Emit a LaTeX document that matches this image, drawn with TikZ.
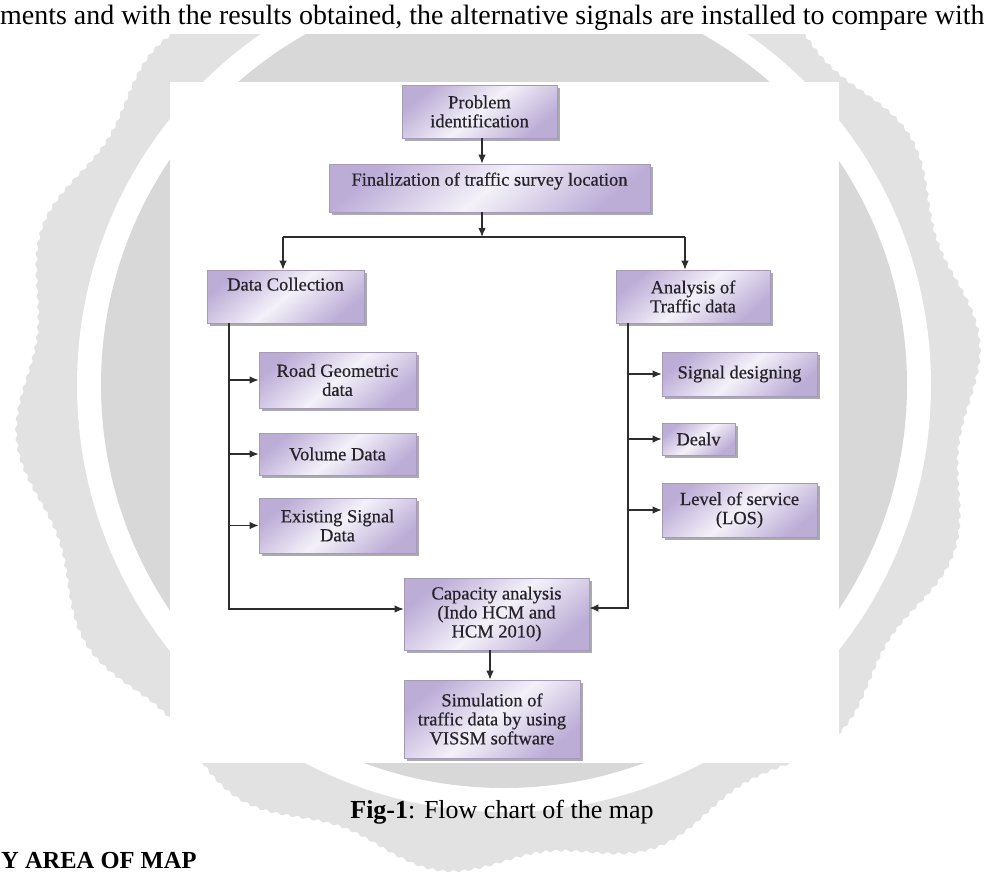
\documentclass[tikz,border=0pt]{standalone}
\usepackage{fontspec}
\setmainfont{Liberation Serif}
\newfontfamily\boxfont[FakeBold=0.5]{Liberation Serif}
\usetikzlibrary{shadows,arrows.meta,calc}
\definecolor{wmout}{RGB}{226,226,226}
\definecolor{wmin}{RGB}{216,216,216}
\definecolor{lavdark}{RGB}{188,173,215}
\definecolor{lavlight}{RGB}{244,241,249}
\definecolor{boxline}{RGB}{165,155,185}
\definecolor{conn}{RGB}{45,45,45}
\definecolor{boxtext}{RGB}{38,34,42}
\begin{document}
\begin{tikzpicture}[x=1pt,y=-1pt,
  fbox/.style={draw=boxline, line width=0.6pt,
    top color=lavdark, bottom color=lavdark, middle color=lavlight, shading angle=40,
    drop shadow={shadow xshift=2.5pt, shadow yshift=-2.5pt, fill=black!55, opacity=0.6},
    inner sep=0pt, align=center, text=boxtext,
    font=\boxfont\fontsize{18.5}{19}\selectfont},
  conline/.style={conn, line width=1.3pt},
  arr/.style={conline, -{Latex[length=9pt,width=7.5pt]}}]
\useasboundingbox (0,0) rectangle (984,875);
\clip (0,0) rectangle (984,875);
% watermark seal
\begin{scope}[shift={(498,390)}]
  \fill[wmout] plot[domain=0:360, samples=1441, variable=\t]
    ({\t}:{474+10*cos(14*\t-2436)+1.2*sin(100*mod(2.9*\t,3.6))}) -- cycle;
\end{scope}
\begin{scope}[shift={(504,385)}]
  \fill[white] (0,0) circle[radius=427];
  \fill[wmin] (0,0) circle[radius=403];
\end{scope}
\fill[white] (0,0) rectangle (984,34);
% white figure area
\fill[white] (170,82) rectangle (839,763);
% page texts
\node[anchor=base west, inner sep=0pt] (toptext) at (0,25)
  {\resizebox{984pt}{!}{ments and with the results obtained, the alternative signals are installed to compare with}};
\node[anchor=base, inner sep=0pt] (caption) at (502,818)
  {\fontsize{26}{28}\selectfont\textbf{Fig-1}: Flow chart of the map};
\node[anchor=base west, inner sep=0pt] (heading) at (1,868)
  {\fontsize{24.5}{28}\selectfont\bfseries Y AREA OF MAP};
% boxes
\node[fbox, minimum width=155pt, minimum height=53pt] (prob) at (479.5,111.5) {Problem\\identification};
\node[fbox, minimum width=321pt, minimum height=48pt] (final) at (489.5,188) {Finalization of traffic survey location\\[-7pt]\strut};
\node[fbox, minimum width=157pt, minimum height=53pt] (dc) at (285.5,296.5) {Data Collection\\\strut};
\node[fbox, minimum width=154pt, minimum height=53pt] (ana) at (693,296.5) {Analysis of\\Traffic data};
\node[fbox, minimum width=157pt, minimum height=56pt] (road) at (337.5,380) {Road Geometric\\data};
\node[fbox, minimum width=157pt, minimum height=42pt] (vol) at (337.5,454) {Volume Data};
\node[fbox, minimum width=157pt, minimum height=55pt] (exist) at (337.5,525.5) {Existing Signal\\Data};
\node[fbox, minimum width=155pt, minimum height=44pt] (sig) at (739.5,374) {Signal designing};
\node[fbox, minimum width=73pt, minimum height=32pt] (dealv) at (698.5,439) {Dealv};
\node[fbox, minimum width=155pt, minimum height=54pt] (los) at (739.5,510) {Level of service\\(LOS)};
\node[fbox, minimum width=185pt, minimum height=72pt] (cap) at (496.5,614) {Capacity analysis\\(Indo HCM and\\HCM 2010)};
\node[fbox, minimum width=176pt, minimum height=78pt] (sim) at (492,719) {Simulation of\\traffic data by using\\VISSM software};
% connectors
\coordinate (j) at (482,237);
\coordinate (jl) at (283,237);
\coordinate (jr) at (685,237);
\coordinate (lb) at (229,609);
\coordinate (rb) at (628,608);
\coordinate (cs) at (490,0);
\draw[arr] (prob.south -| j) -- (final.north -| j);
\draw[arr] (final.south -| j) -- (j);
\draw[conline] (jl) -- (jr);
\draw[arr] (jl) -- (jl |- dc.north);
\draw[arr] (jr) -- (jr |- ana.north);
\draw[arr] (lb |- dc.south) -- (lb) -- (cap.west |- lb);
\draw[arr] (lb |- road.west) -- (road.west);
\draw[arr] (lb |- vol.west) -- (vol.west);
\draw[arr] (lb |- exist.west) -- (exist.west);
\draw[arr] (rb |- ana.south) -- (rb) -- (cap.east |- rb);
\draw[arr] (rb |- sig.west) -- (sig.west);
\draw[arr] (rb |- dealv.west) -- (dealv.west);
\draw[arr] (rb |- los.west) -- (los.west);
\draw[arr] (cap.south -| cs) -- (sim.north -| cs);
\end{tikzpicture}
\end{document}
